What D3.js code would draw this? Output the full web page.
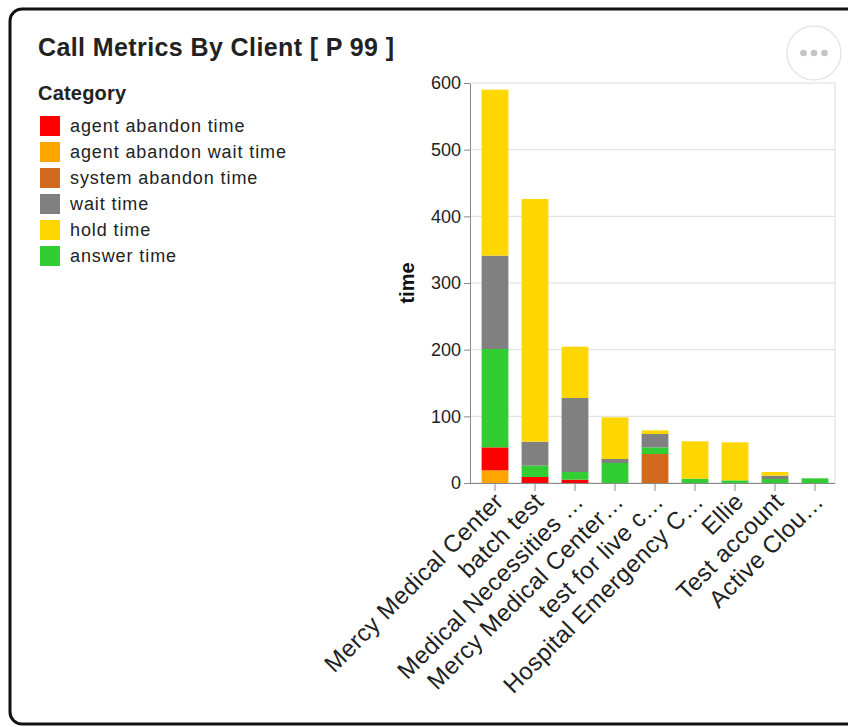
<!DOCTYPE html>
<html>
<head>
    <title>call metrics by client</title>
    <script type="text/javascript" src="https://cdn.jsdelivr.net/npm/d3@7/dist/d3.min.js"></script>
    <style type="text/css">
        body {
            margin: 0;
            background: #fff;
            font-family: "Liberation Sans", Arial, sans-serif;
        }
        svg {
            display: block;
        }
        .grid line {
            stroke: #ddd;
            stroke-width: 1px;
        }
        .axis text {
            fill: #222;
        }
        .axis line, .axis path {
            stroke: #888;
        }
    </style>
</head>
<body>
    <svg id="chart" width="848" height="727"></svg>
</body>

<script type="text/javascript">

    // clients, as the truncated axis labels show them
    let clients = ["Mercy Medical Center", "batch test", "Medical Necessities \u2026",
                   "Mercy Medical Center\u2026", "test for live c\u2026", "Hospital Emergency C\u2026",
                   "Ellie", "Test account", "Active Clou\u2026"];

    // p99 time per category
    let agentAbandonWait = [19,   0,   0,   0,    0,    0,    0,  0,   0];
    let agentAbandon     = [34.5, 9,   5,   0,    0,    0,    0,  0,   0];
    let systemAbandon    = [0,    0,   0,   0,    43.5, 0,    0,  0,   0];
    let answerTime       = [147.5, 17, 11.5, 30,  10,   6.5,  4,  6,   7];
    let waitTime         = [140,  36,  111, 6,    20,   0,    0,  5,   0];
    let holdTime         = [249,  364, 77,  62.5, 5.5,  56,   57, 5.5, 0];

    let yTicks = [0, 100, 200, 300, 400, 500, 600];

    // legend order
    let categories = ["agent abandon time", "agent abandon wait time", "system abandon time",
                      "wait time", "hold time", "answer time"];
    let colors = ["#ff0000", "#ffa500", "#d2691e", "#808080", "#ffd700", "#32cd32"];

    // stacking order, bottom to top
    let stackKeys = ["agent abandon wait time", "agent abandon time", "system abandon time",
                     "answer time", "wait time", "hold time"];

    let rows = clients.map(function(c, i) {
        return {
            client: c,
            "agent abandon wait time": agentAbandonWait[i],
            "agent abandon time": agentAbandon[i],
            "system abandon time": systemAbandon[i],
            "answer time": answerTime[i],
            "wait time": waitTime[i],
            "hold time": holdTime[i]
        };
    });

    let svg = d3.select("#chart");

    // card
    svg.append("rect")
        .attr("x", 10).attr("y", 9)
        .attr("width", 880).attr("height", 715)
        .attr("rx", 12)
        .attr("fill", "#fff")
        .attr("stroke", "#111")
        .attr("stroke-width", 3);

    svg.append("text")
        .attr("x", 38).attr("y", 56)
        .attr("font-size", 25)
        .attr("font-weight", "bold")
        .attr("letter-spacing", 0.4)
        .attr("fill", "#222")
        .text("Call Metrics By Client [ P 99 ]");

    // more button
    let more = svg.append("g");
    more.append("circle")
        .attr("cx", 814).attr("cy", 53).attr("r", 27)
        .attr("fill", "#fff").attr("stroke", "#e6e6e6").attr("stroke-width", 1.5);
    more.selectAll("circle.dot")
        .data([-10.5, 0, 10.5])
        .join("circle")
        .attr("class", "dot")
        .attr("cx", d => 814 + d).attr("cy", 53).attr("r", 3.3)
        .attr("fill", "#c4c4c4");

    // legend
    let color = d3.scaleOrdinal().domain(categories).range(colors);

    let legend = svg.append("g");
    legend.append("text")
        .attr("x", 38).attr("y", 100)
        .attr("font-size", 20)
        .attr("font-weight", "bold")
        .attr("letter-spacing", 0.2)
        .attr("fill", "#222")
        .text("Category");

    let item = legend.selectAll("g.item")
        .data(categories)
        .join("g")
        .attr("class", "item")
        .attr("transform", (d, i) => "translate(40," + (116 + i * 26) + ")");
    item.append("rect")
        .attr("width", 20).attr("height", 20)
        .attr("fill", d => color(d));
    item.append("text")
        .attr("x", 30).attr("y", 10).attr("dy", "0.35em")
        .attr("font-size", 18)
        .attr("letter-spacing", 0.9)
        .attr("fill", "#222")
        .text(d => d);

    // plot
    let plotLeft = 470, plotRight = 835, plotTop = 83, plotBottom = 483;

    let x = d3.scaleBand()
        .domain(clients)
        .range([475, plotRight])
        .paddingInner(0.33)
        .paddingOuter(0.165);

    let y = d3.scaleLinear()
        .domain([0, 600])
        .range([plotBottom, plotTop]);

    svg.append("g")
        .attr("class", "grid")
        .selectAll("line")
        .data(yTicks)
        .join("line")
        .attr("x1", plotLeft).attr("x2", plotRight)
        .attr("y1", d => y(d)).attr("y2", d => y(d));

    svg.append("line")
        .attr("x1", plotRight).attr("x2", plotRight)
        .attr("y1", plotTop).attr("y2", plotBottom)
        .attr("stroke", "#ddd");

    let series = d3.stack().keys(stackKeys)(rows);

    svg.append("g")
        .selectAll("g")
        .data(series)
        .join("g")
        .attr("fill", d => color(d.key))
        .selectAll("rect")
        .data(d => d)
        .join("rect")
        .attr("x", d => x(d.data.client))
        .attr("width", x.bandwidth())
        .attr("y", d => y(d[1]))
        .attr("height", d => y(d[0]) - y(d[1]));

    // y axis
    let yAxis = svg.append("g")
        .attr("class", "axis")
        .attr("transform", "translate(" + plotLeft + ",0)")
        .call(d3.axisLeft(y).tickValues(yTicks).tickSize(6).tickSizeOuter(0).tickPadding(3));
    yAxis.selectAll("text").attr("font-size", 18).attr("font-family", "Liberation Sans, Arial, sans-serif");

    svg.append("text")
        .attr("transform", "translate(414," + ((plotTop + plotBottom) / 2) + ") rotate(-90)")
        .attr("text-anchor", "middle")
        .attr("font-size", 20)
        .attr("font-weight", "bold")
        .attr("fill", "#111")
        .text("time");

    // x axis
    let xAxis = svg.append("g")
        .attr("class", "axis")
        .attr("transform", "translate(0," + plotBottom + ")")
        .call(d3.axisBottom(x).tickSize(8).tickSizeOuter(0));
    xAxis.select(".domain").attr("d", "M" + plotLeft + ",0.5H" + plotRight);
    xAxis.selectAll("text")
        .attr("font-size", 24)
        .attr("letter-spacing", 0.4)
        .attr("font-family", "Liberation Sans, Arial, sans-serif")
        .attr("text-anchor", "end")
        .attr("x", 0).attr("y", 0).attr("dy", "0.35em")
        .attr("transform", "translate(4,14) rotate(-45)");
</script>

</html>
